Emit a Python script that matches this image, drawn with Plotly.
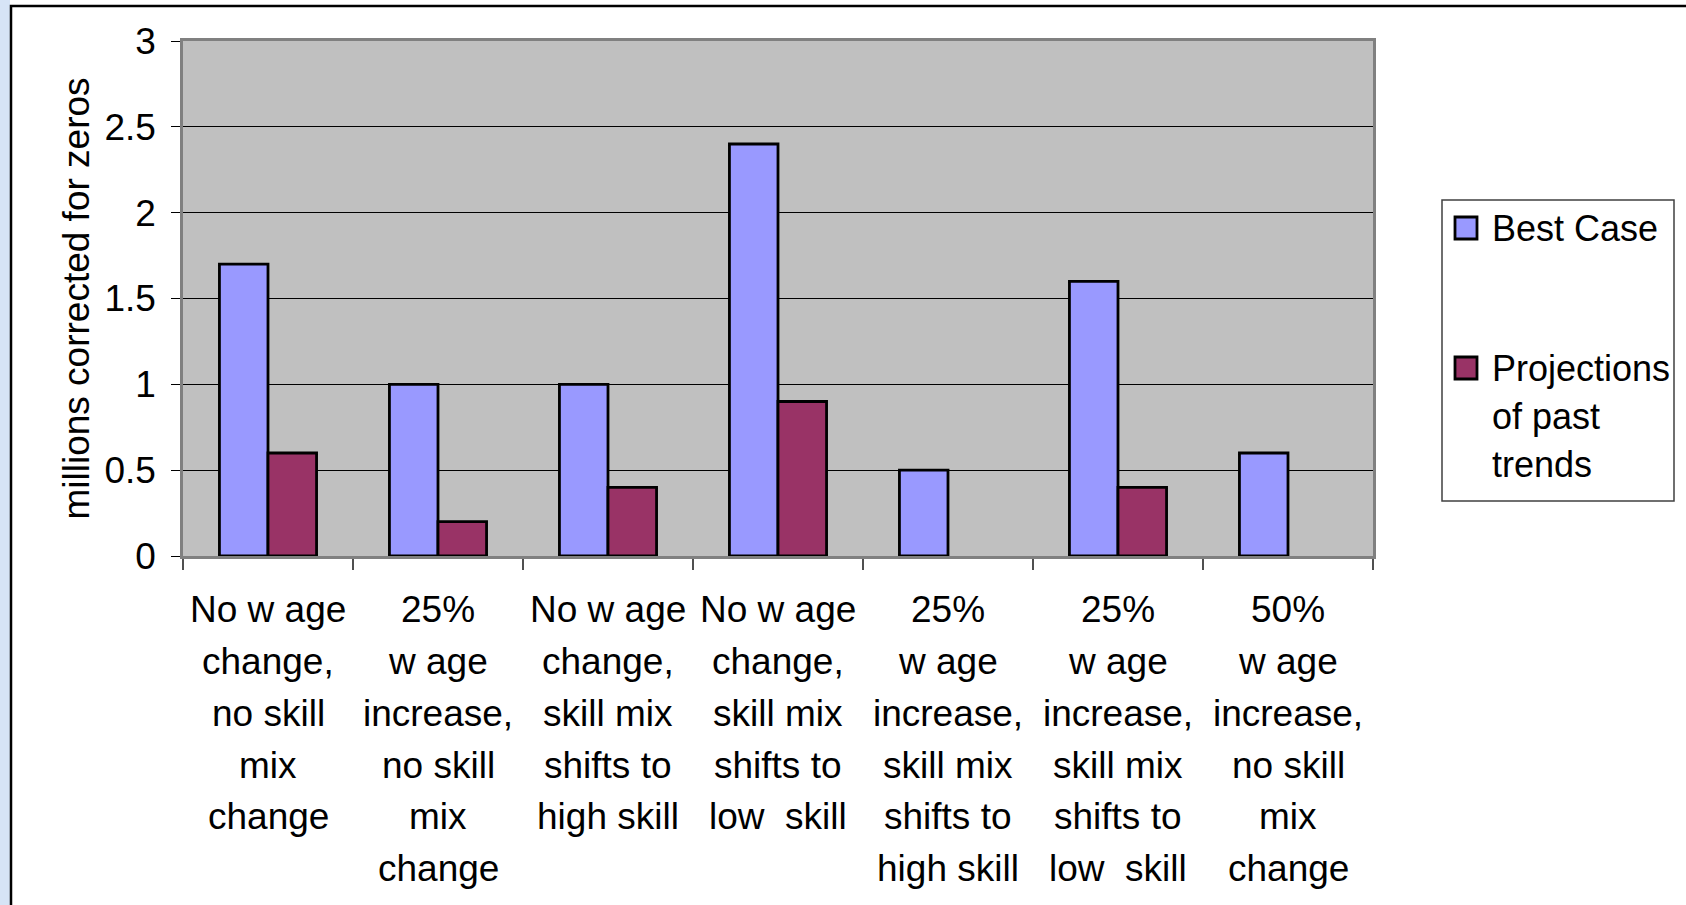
import plotly.graph_objects as go

# Scenario categories (one label line per entry) and series values, in millions
scenario_lines = [
    ["No w age", "change,", "no skill", "mix", "change"],
    ["25%", "w age", "increase,", "no skill", "mix", "change"],
    ["No w age", "change,", "skill mix", "shifts to", "high skill"],
    ["No w age", "change,", "skill mix", "shifts to", "low  skill"],
    ["25%", "w age", "increase,", "skill mix", "shifts to", "high skill"],
    ["25%", "w age", "increase,", "skill mix", "shifts to", "low  skill"],
    ["50%", "w age", "increase,", "no skill", "mix", "change"],
]
categories = [" ".join(lines) for lines in scenario_lines]
best_case = [1.7, 1.0, 1.0, 2.4, 0.5, 1.6, 0.6]
past_trends = [0.6, 0.2, 0.4, 0.9, None, 0.4, None]

series_names = ["Best Case", "Projections of past trends"]
legend_lines = [["Best Case"], ["Projections", "of past", "trends"]]
series_colors = ["#9999FF", "#993366"]
y_tick_values = [0, 0.5, 1, 1.5, 2, 2.5, 3]
y_tick_labels = ["0", "0.5", "1", "1.5", "2", "2.5", "3"]
y_title = "millions corrected for zeros"

W, H = 1686, 905
L, R, T, B = 183, 1686 - 1373, 41, 905 - 556
FONT = "Liberation Sans, Arial, sans-serif"
FS = 37
FS_LEG = 36


def px_x(x):
    return (x - L) / (W - L - R)


def px_y(y):
    return (H - B - y) / (H - T - B)


fig = go.Figure()
for name, vals, col in zip(series_names, [best_case, past_trends], series_colors):
    fig.add_trace(go.Bar(
        x=categories, y=vals, name=name,
        marker=dict(color=col, line=dict(color="black", width=2.8)),
        showlegend=False, hoverinfo="x+y+name",
    ))

shapes = [
    # slide strip on the far left
    dict(type="rect", xref="paper", yref="paper",
         x0=px_x(-5), x1=px_x(10), y0=px_y(-5), y1=px_y(H + 5),
         fillcolor="#d6e4f6", line=dict(width=0)),
    # chart frame
    dict(type="rect", xref="paper", yref="paper",
         x0=px_x(11), x1=px_x(W + 20), y0=px_y(6), y1=px_y(H + 20),
         fillcolor="rgba(0,0,0,0)", line=dict(color="black", width=2.5)),
    # legend box
    dict(type="rect", xref="paper", yref="paper",
         x0=px_x(1442), x1=px_x(1674), y0=px_y(200), y1=px_y(501),
         fillcolor="white", line=dict(color="#404040", width=1.5)),
]

annotations = []

# legend entries: square swatch + text lines
legend_rows = [228, 368]
for lines, col, yc in zip(legend_lines, series_colors, legend_rows):
    shapes.append(dict(type="rect", xref="paper", yref="paper",
                       x0=px_x(1455), x1=px_x(1477), y0=px_y(yc - 11), y1=px_y(yc + 11),
                       fillcolor=col, line=dict(color="black", width=2.8)))
    for j, txt in enumerate(lines):
        annotations.append(dict(
            xref="paper", yref="paper", x=px_x(1490), y=px_y(yc + j * 48.4),
            text=txt, showarrow=False, xanchor="left", yanchor="middle",
            font=dict(family=FONT, size=FS_LEG, color="black"),
        ))

# multi-line category labels under each group
LINE_GAP = 51.8
FIRST_LINE = 609.7 - (H - B)
for cat, lines in zip(categories, scenario_lines):
    for j, txt in enumerate(lines):
        annotations.append(dict(
            xref="x", yref="y", x=cat, y=0,
            text=txt, showarrow=False, xanchor="center", yanchor="middle",
            yshift=-(FIRST_LINE + j * LINE_GAP),
            font=dict(family=FONT, size=FS, color="black"),
        ))

fig.update_layout(
    width=W, height=H,
    margin=dict(l=L, r=R, t=T, b=B, pad=0),
    paper_bgcolor="white",
    plot_bgcolor="#C0C0C0",
    barmode="group",
    bargap=0.4286,
    bargroupgap=0,
    font=dict(family=FONT, size=FS, color="black"),
    shapes=shapes,
    annotations=annotations,
    showlegend=False,
)

fig.update_xaxes(
    type="category",
    categoryorder="array", categoryarray=categories,
    showticklabels=False,
    tickson="boundaries",
    ticks="outside", ticklen=11, tickwidth=1.5, tickcolor="#505050",
    showline=True, linecolor="#808080", linewidth=2.5, mirror=True,
    showgrid=False, zeroline=False,
)

fig.update_yaxes(
    range=[0, 3],
    tickmode="array", tickvals=y_tick_values, ticktext=y_tick_labels,
    ticks="outside", ticklen=9, tickwidth=1.2, tickcolor="black",
    ticklabelstandoff=8,
    tickfont=dict(family=FONT, size=FS, color="black"),
    showgrid=True, gridcolor="black", gridwidth=1,
    showline=True, linecolor="#808080", linewidth=2.5, mirror=True,
    zeroline=False,
    title=dict(text=y_title, standoff=4,
               font=dict(family=FONT, size=FS, color="black")),
)

fig.write_html("out.html")
